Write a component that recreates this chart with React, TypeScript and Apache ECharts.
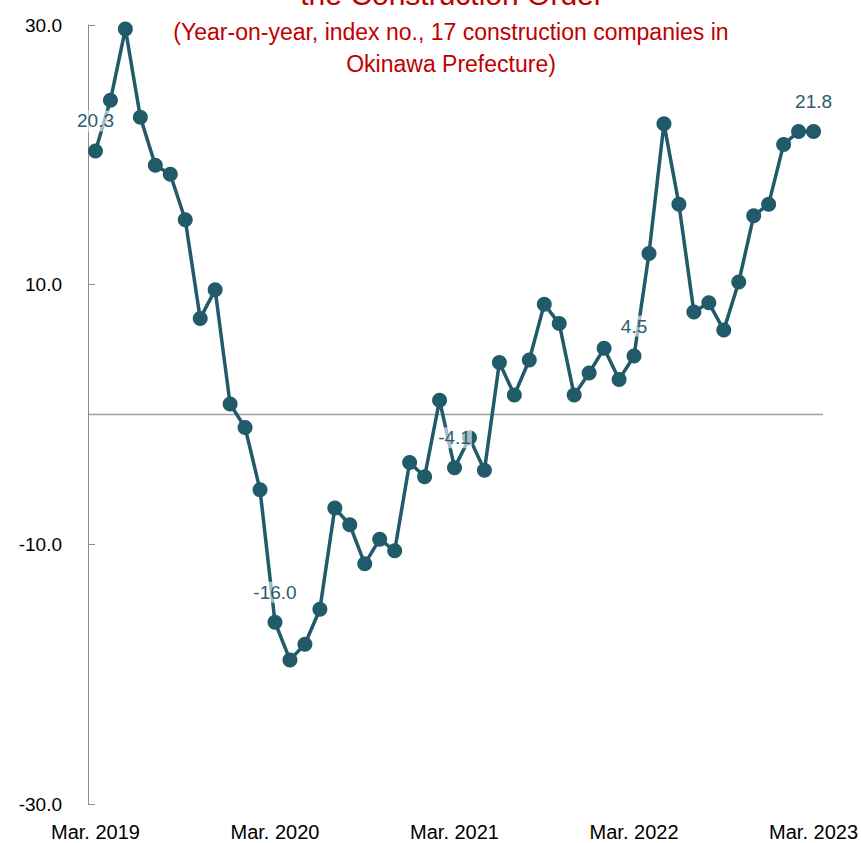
import React, { useEffect, useRef } from "react";
import * as echarts from "echarts";

const categories: string[] = [
  "Mar. 2019", "Apr. 2019", "May 2019", "Jun. 2019", "Jul. 2019", "Aug. 2019", "Sep. 2019", "Oct. 2019", "Nov. 2019", "Dec. 2019", "Jan. 2020", "Feb. 2020",
  "Mar. 2020", "Apr. 2020", "May 2020", "Jun. 2020", "Jul. 2020", "Aug. 2020", "Sep. 2020", "Oct. 2020", "Nov. 2020", "Dec. 2020", "Jan. 2021", "Feb. 2021",
  "Mar. 2021", "Apr. 2021", "May 2021", "Jun. 2021", "Jul. 2021", "Aug. 2021", "Sep. 2021", "Oct. 2021", "Nov. 2021", "Dec. 2021", "Jan. 2022", "Feb. 2022",
  "Mar. 2022", "Apr. 2022", "May 2022", "Jun. 2022", "Jul. 2022", "Aug. 2022", "Sep. 2022", "Oct. 2022", "Nov. 2022", "Dec. 2022", "Jan. 2023", "Feb. 2023",
  "Mar. 2023",
];

const values: number[] = [
  20.3, 24.2, 29.7, 22.9, 19.2, 18.5, 15.0, 7.4, 9.6, 0.8, -1.0, -5.8,
  -16.0, -18.9, -17.7, -15.0, -7.2, -8.5, -11.5, -9.6, -10.5, -3.7, -4.8, 1.1,
  -4.1, -1.8, -4.3, 4.0, 1.5, 4.2, 8.5, 7.0, 1.5, 3.2, 5.1, 2.7,
  4.5, 12.4, 22.4, 16.2, 7.9, 8.6, 6.5, 10.2, 15.3, 16.2, 20.8, 21.8,
  21.8,
];

const labeledIndices: number[] = [0, 12, 24, 36, 48];

const titleText = "the Construction Order";
const subtitleLines: string[] = [
  "(Year-on-year, index no., 17 construction companies in",
  "Okinawa Prefecture)",
];

const yMin = -30;
const yMax = 30;
const yInterval = 20;
const zeroValue = 0;

const FONT = "'Liberation Sans', Arial, sans-serif";

export default function App() {
  const ref = useRef<HTMLDivElement>(null);

  useEffect(() => {
    if (!ref.current) return;
    const chart = echarts.init(ref.current, undefined, { renderer: "svg" });
    const lineColor = "#215a69";
    const data = values.map((v, i) =>
      labeledIndices.includes(i)
        ? { value: v, label: { show: true } }
        : { value: v }
    );
    const gridLeft = 88;
    const gridRight = 38;
    chart.setOption({
      animation: false,
      backgroundColor: "#ffffff",
      textStyle: { fontFamily: FONT },
      grid: { left: gridLeft, right: gridRight, top: 25, bottom: 39, containLabel: false },
      xAxis: {
        type: "category",
        data: categories,
        boundaryGap: true,
        axisLine: { show: false },
        axisTick: { show: false },
        axisLabel: {
          interval: 11,
          color: "#000000",
          fontSize: 20,
          fontFamily: FONT,
          margin: 18,
        },
        splitLine: { show: false },
      },
      yAxis: {
        type: "value",
        min: yMin,
        max: yMax,
        interval: yInterval,
        axisLine: { show: true, lineStyle: { color: "#8c8c8c", width: 1 } },
        axisTick: { show: true, inside: true, length: 7, lineStyle: { color: "#8c8c8c" } },
        axisLabel: {
          color: "#000000",
          fontSize: 19,
          fontFamily: FONT,
          margin: 26,
          formatter: (v: number) => v.toFixed(1),
        },
        splitLine: { show: false },
      },
      series: [
        {
          type: "line",
          data,
          symbol: "circle",
          symbolSize: 15,
          showSymbol: true,
          showAllSymbol: true,
          lineStyle: { color: lineColor, width: 3.5 },
          itemStyle: { color: lineColor },
          label: {
            show: false,
            position: "top",
            distance: 12,
            color: "#2b5d6c",
            fontSize: 19,
            fontFamily: FONT,
            backgroundColor: "rgba(255,255,255,0.6)",
            padding: [1, 1],
            formatter: (p: any) => Number(p.value).toFixed(1),
          },
          z: 3,
        },
      ],
    });
    const width = chart.getWidth();
    const zeroY = chart.convertToPixel({ yAxisIndex: 0 }, zeroValue) as number;
    chart.setOption({
      graphic: [
        {
          type: "line",
          shape: { x1: gridLeft, y1: zeroY, x2: width - gridRight, y2: zeroY },
          style: { stroke: "#a0a0a0", lineWidth: 1.5 },
          z: 0,
          silent: true,
        },
        {
          type: "text",
          x: 452,
          y: 9,
          style: {
            text: titleText,
            fontSize: 30,
            fontFamily: FONT,
            fill: "#c00000",
            align: "center",
            verticalAlign: "bottom",
          },
          z: 100,
        },
        {
          type: "text",
          x: 451,
          y: 16,
          style: {
            text: subtitleLines.join("\n"),
            fontSize: 23,
            lineHeight: 32,
            fontFamily: FONT,
            fill: "#c00000",
            align: "center",
            verticalAlign: "top",
          },
          z: 100,
        },
      ],
    });
    return () => chart.dispose();
  }, []);

  return (
    <div
      ref={ref}
      style={{ position: "absolute", left: 0, top: 0, width: 861, height: 843 }}
    />
  );
}
